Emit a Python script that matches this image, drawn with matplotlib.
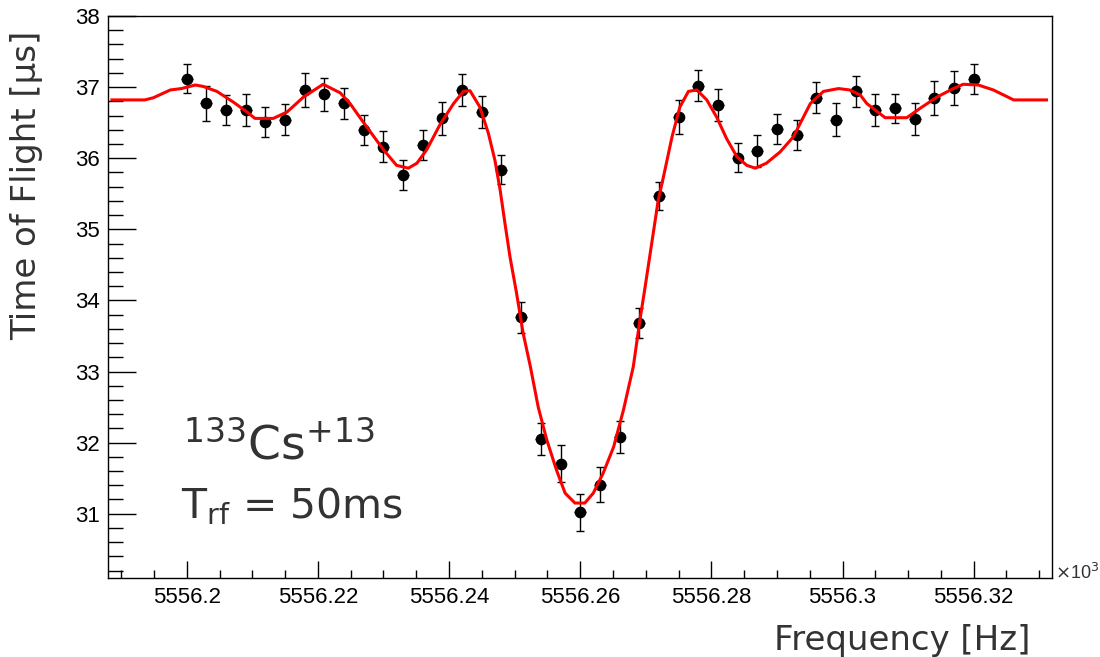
import matplotlib
matplotlib.use("Agg")
import matplotlib.pyplot as plt
from matplotlib.ticker import MultipleLocator, FuncFormatter

# ── measured TOF resonance (frequency in kHz, TOF in us) ─────────
freq = [5556.200, 5556.203, 5556.206, 5556.209, 5556.212, 5556.215, 5556.218,
        5556.221, 5556.224, 5556.227, 5556.230, 5556.233, 5556.236, 5556.239,
        5556.242, 5556.245, 5556.248, 5556.251, 5556.254, 5556.257, 5556.260,
        5556.263, 5556.266, 5556.269, 5556.272, 5556.275, 5556.278, 5556.281,
        5556.284, 5556.287, 5556.290, 5556.293, 5556.296, 5556.299, 5556.302,
        5556.305, 5556.308, 5556.311, 5556.314, 5556.317, 5556.320]
tof = [37.12, 36.77, 36.68, 36.68, 36.51, 36.54, 36.96, 36.90, 36.77, 36.40,
       36.16, 35.76, 36.19, 36.56, 36.96, 36.65, 35.84, 33.76, 32.05, 31.70,
       31.02, 31.41, 32.08, 33.68, 35.47, 36.58, 37.02, 36.75, 36.01, 36.10,
       36.41, 36.33, 36.85, 36.54, 36.94, 36.68, 36.70, 36.55, 36.85, 36.99,
       37.12]
tof_err = [0.20, 0.25, 0.21, 0.22, 0.21, 0.22, 0.24, 0.23, 0.22, 0.21,
           0.22, 0.21, 0.21, 0.23, 0.22, 0.22, 0.20, 0.22, 0.23, 0.26,
           0.26, 0.24, 0.23, 0.21, 0.20, 0.24, 0.22, 0.22, 0.20, 0.23,
           0.21, 0.21, 0.22, 0.23, 0.22, 0.22, 0.21, 0.23, 0.24, 0.24,
           0.21]
freq_err = 0.0009

# ── fit curve ───────────────────────────────────────────────────
fit_freq = [5556.1886, 5556.1936, 5556.1949, 5556.1975, 5556.1992, 5556.2013,
            5556.2025, 5556.2046, 5556.2071, 5556.2092, 5556.2104, 5556.2132,
            5556.2153, 5556.2178, 5556.2208, 5556.2234, 5556.2249, 5556.2269,
            5556.2300, 5556.2320, 5556.2338, 5556.2351, 5556.2366, 5556.2386,
            5556.2407, 5556.2422, 5556.2432, 5556.2447, 5556.2460, 5556.2470,
            5556.2478, 5556.2485, 5556.2493, 5556.2503, 5556.2513, 5556.2524,
            5556.2536, 5556.2549, 5556.2564, 5556.2577, 5556.2592, 5556.2607,
            5556.2620, 5556.2635, 5556.2651, 5556.2666, 5556.2681, 5556.2691,
            5556.2699, 5556.2709, 5556.2719, 5556.2727, 5556.2740, 5556.2752,
            5556.2765, 5556.2778, 5556.2793, 5556.2808, 5556.2823, 5556.2839,
            5556.2854, 5556.2867, 5556.2884, 5556.2905, 5556.2925, 5556.2951,
            5556.2971, 5556.2994, 5556.3011, 5556.3027, 5556.3037, 5556.3065,
            5556.3098, 5556.3118, 5556.3144, 5556.3169, 5556.3184, 5556.3207,
            5556.3230, 5556.3261, 5556.3311]
fit_tof = [36.82, 36.82, 36.85, 36.96, 36.98, 37.03,
           37.01, 36.94, 36.79, 36.65, 36.56, 36.56,
           36.65, 36.86, 37.04, 36.92, 36.77, 36.51,
           36.12, 35.90, 35.86, 35.93, 36.12, 36.47,
           36.77, 36.94, 36.95, 36.72, 36.35, 35.97,
           35.55, 35.10, 34.61, 34.10, 33.54, 33.07,
           32.50, 32.04, 31.61, 31.29, 31.15, 31.15,
           31.29, 31.57, 31.94, 32.46, 33.07, 33.72,
           34.19, 34.80, 35.41, 35.74, 36.30, 36.72,
           36.94, 36.96, 36.82, 36.58, 36.28, 36.02,
           35.90, 35.86, 35.93, 36.09, 36.30, 36.77,
           36.94, 36.98, 36.96, 36.89, 36.77, 36.57,
           36.57, 36.70, 36.86, 36.98, 37.04, 37.03,
           36.96, 36.82, 36.82]

TICK_FONT = "Liberation Sans"
TITLE_COLOR = "#333333"

fig = plt.figure(figsize=(11, 6.57), dpi=100)
ax = fig.add_axes([0.0982, 0.1207, 0.8585, 0.8549])

ax.plot(fit_freq, fit_tof, color="#ff0000", lw=2.2, zorder=4)
ax.errorbar(freq, tof, xerr=freq_err, fmt="none", ecolor="black",
            elinewidth=1.0, capsize=0, zorder=3)
ax.errorbar(freq, tof, yerr=tof_err, fmt="o", color="black", ms=7.4,
            ecolor="black", elinewidth=1.0, capsize=2.7, capthick=1.0,
            zorder=3)

ax.set_xlim(5556.188, 5556.332)
ax.set_ylim(30.1, 38.0)

ax.xaxis.set_major_locator(MultipleLocator(0.02))
ax.xaxis.set_minor_locator(MultipleLocator(0.005))
ax.yaxis.set_major_locator(MultipleLocator(1))
ax.yaxis.set_minor_locator(MultipleLocator(0.2))
ax.xaxis.set_major_formatter(FuncFormatter(lambda v, _: f"{round(v, 4):.10g}"))
ax.yaxis.set_major_formatter(FuncFormatter(lambda v, _: f"{v:.0f}"))

ax.tick_params(axis="x", which="major", direction="in", length=12.2, width=1,
               pad=7, labelsize=16, top=False)
ax.tick_params(axis="x", which="minor", direction="in", length=6.1, width=1,
               top=False)
ax.tick_params(axis="y", which="major", direction="in", length=20.5, width=1,
               pad=6, labelsize=16, right=False)
ax.tick_params(axis="y", which="minor", direction="in", length=10.5, width=1,
               right=False)
for lab in ax.get_xticklabels() + ax.get_yticklabels():
    lab.set_family(TICK_FONT)
for sp in ax.spines.values():
    sp.set_linewidth(1.0)

# axis titles
fig.text(1030 / 1100, 1 - 650 / 657, "Frequency [Hz]", ha="right",
         va="baseline", fontsize=24.5, color=TITLE_COLOR, family="DejaVu Sans")
fig.text(27 / 1100, 1 - 185 / 657, "Time of Flight [\u03bcs]", ha="center",
         va="center", rotation=90, fontsize=24.5, color=TITLE_COLOR,
         family="DejaVu Sans")
fig.text(1055 / 1100, 1 - 573 / 657, r"$\times$10$^{3}$", ha="left",
         va="center", fontsize=13, color="#333333", family=TICK_FONT)

# annotation
plt.rcParams["mathtext.fontset"] = "dejavusans"
fig.text(183 / 1100, 1 - 459 / 657, r"$^{133}$Cs$^{+13}$", ha="left",
         va="baseline", fontsize=34, color=TITLE_COLOR, family="DejaVu Sans")
fig.text(181 / 1100, 1 - 518 / 657, r"T$_{\mathregular{rf}}$ = 50ms", ha="left",
         va="baseline", fontsize=29.4, color=TITLE_COLOR, family="DejaVu Sans")

fig.savefig("out.png", dpi=100)
